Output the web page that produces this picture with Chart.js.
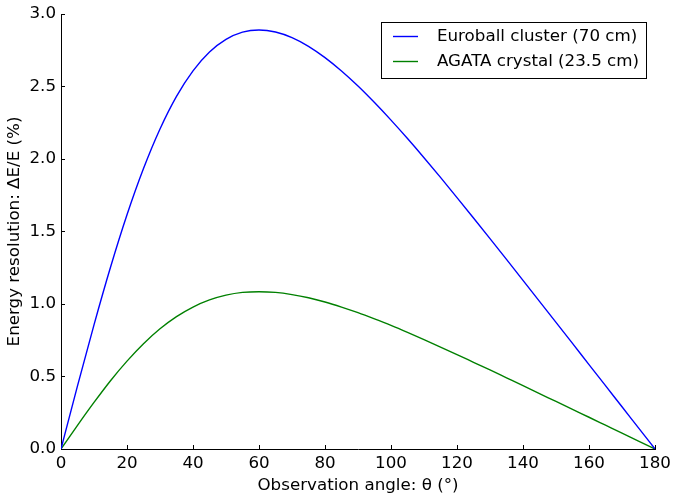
<!DOCTYPE html>
<html>
<head>
<meta charset="utf-8">
<script src="https://cdn.jsdelivr.net/npm/chart.js@4"></script>
<style>
  html, body { margin: 0; padding: 0; background: #fff; }
  canvas { display: block; }
</style>
</head>
<body>
<canvas id="myChart" width="673" height="494"></canvas>
<script>
// observation angle (deg), every 5 degrees
const angles = [0, 5, 10, 15, 20, 25, 30, 35, 40, 45, 50, 55, 60, 65, 70, 75, 80, 85, 90,
    95, 100, 105, 110, 115, 120, 125, 130, 135, 140, 145, 150, 155, 160, 165, 170, 175, 180];
const euroball = [0, 0.435, 0.856, 1.253, 1.615, 1.934, 2.207, 2.432, 2.608, 2.738, 2.825, 2.875, 2.890, 2.876, 2.837, 2.777, 2.699, 2.607, 2.503,
    2.389, 2.268, 2.141, 2.009, 1.873, 1.734, 1.593, 1.451, 1.308, 1.163, 1.018, 0.873, 0.728, 0.582, 0.437, 0.291, 0.146, 0];
const agata = [0, 0.163, 0.321, 0.471, 0.606, 0.726, 0.829, 0.913, 0.979, 1.028, 1.061, 1.080, 1.085, 1.080, 1.065, 1.043, 1.014, 0.979, 0.940,
    0.897, 0.852, 0.804, 0.754, 0.703, 0.651, 0.598, 0.545, 0.491, 0.437, 0.382, 0.328, 0.273, 0.219, 0.164, 0.109, 0.055, 0];
const seriesNames = ['Euroball cluster (70 cm)', 'AGATA crystal (23.5 cm)'];
const seriesColors = ['#0000ff', '#008000'];
const xTicks = [0, 20, 40, 60, 80, 100, 120, 140, 160, 180];
const yTicks = [0, 0.5, 1.0, 1.5, 2.0, 2.5, 3.0];

const FONT = 'DejaVu Sans';
const FSIZE = 16.7;

function toPoints(ys) {
    return angles.map((a, i) => ({ x: a, y: ys[i] }));
}

function noPadding(s) {
    s.paddingTop = 0;
    s.paddingBottom = 0;
    s.paddingLeft = 0;
    s.paddingRight = 0;
}

// legend with a black frame, like the matplotlib one
const boxLegend = {
    id: 'boxLegend',
    afterDraw(chart) {
        const ctx = chart.ctx;
        const area = chart.chartArea;
        const left = area.right - 273.5;
        const top = area.top + 8.5;
        ctx.save();
        ctx.strokeStyle = '#000';
        ctx.lineWidth = 1;
        ctx.strokeRect(left, top, 265, 56);
        ctx.font = FSIZE + 'px "' + FONT + '"';
        ctx.textBaseline = 'middle';
        ctx.fillStyle = '#000';
        chart.data.datasets.forEach((ds, i) => {
            const y = top + 14 + i * 25;
            ctx.strokeStyle = ds.borderColor;
            ctx.lineWidth = 1.4;
            ctx.beginPath();
            ctx.moveTo(left + 11.5, y);
            ctx.lineTo(left + 36.5, y);
            ctx.stroke();
            ctx.fillText(ds.label, left + 55.5, y);
        });
        ctx.restore();
    }
};

const ctx = document.getElementById('myChart').getContext('2d');
const chart = new Chart(ctx, {
    type: 'line',
    data: {
        datasets: [{
            label: seriesNames[0],
            data: toPoints(euroball),
            borderColor: seriesColors[0],
            borderWidth: 1.4,
            pointRadius: 0,
            fill: false,
            cubicInterpolationMode: 'monotone'
        }, {
            label: seriesNames[1],
            data: toPoints(agata),
            borderColor: seriesColors[1],
            borderWidth: 1.4,
            pointRadius: 0,
            fill: false,
            cubicInterpolationMode: 'monotone'
        }]
    },
    options: {
        responsive: false,
        animation: false,
        layout: { padding: { left: 0, right: 18, top: 14, bottom: 0 } },
        plugins: {
            legend: { display: false },
            tooltip: { enabled: false }
        },
        scales: {
            x: {
                type: 'linear',
                min: 0,
                max: 180,
                afterBuildTicks: s => { s.ticks = xTicks.map(v => ({ value: v })); },
                afterFit: s => { s.height = 45; noPadding(s); },
                border: { color: '#000', width: 1 },
                grid: { drawOnChartArea: false, color: '#000', tickLength: -4, tickWidth: 1 },
                ticks: {
                    color: '#000', font: { family: FONT, size: FSIZE }, padding: 9,
                    maxRotation: 0, autoSkip: false
                },
                title: {
                    display: true,
                    text: 'Observation angle: θ (°)',
                    color: '#000',
                    font: { family: FONT, size: FSIZE },
                    padding: { top: 0, bottom: -2 }
                }
            },
            y: {
                type: 'linear',
                min: 0,
                max: 3.0,
                afterBuildTicks: s => { s.ticks = yTicks.map(v => ({ value: v })); },
                afterFit: s => { s.width = 61; noPadding(s); },
                border: { color: '#000', width: 1 },
                grid: { drawOnChartArea: false, color: '#000', tickLength: -4, tickWidth: 1 },
                ticks: {
                    color: '#000', font: { family: FONT, size: FSIZE }, padding: 9,
                    callback: v => v.toFixed(1)
                },
                title: {
                    display: true,
                    text: 'Energy resolution: ΔE/E (%)',
                    color: '#000',
                    font: { family: FONT, size: FSIZE },
                    padding: { top: 5, bottom: 0 }
                }
            }
        }
    },
    plugins: [boxLegend]
});
</script>
</body>
</html>
